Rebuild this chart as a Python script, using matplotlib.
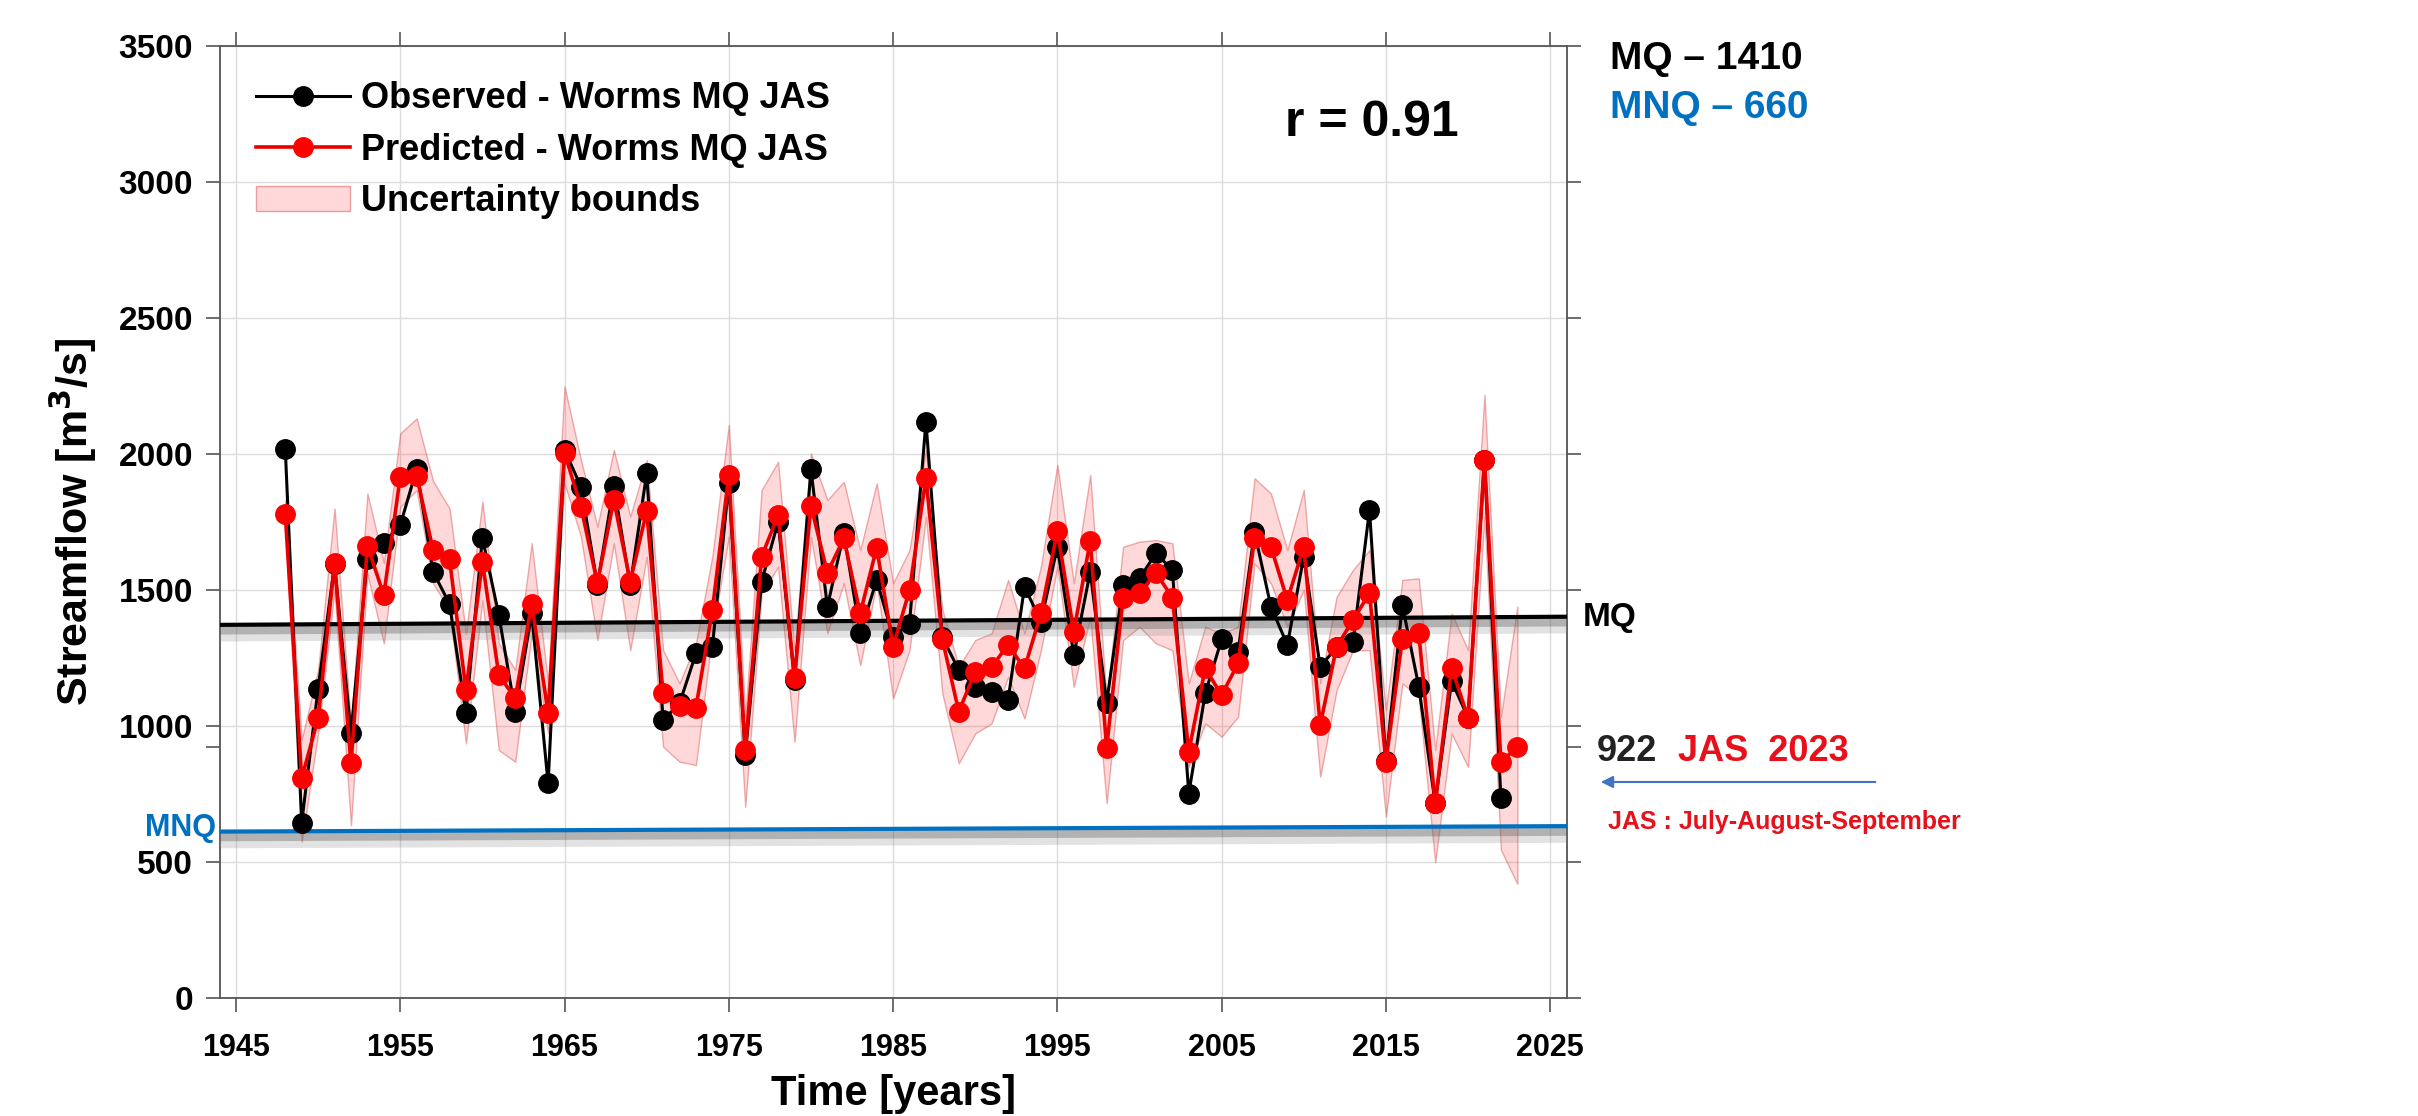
import matplotlib
matplotlib.use("Agg")
import matplotlib.pyplot as plt
import matplotlib.patheffects as pe
from matplotlib.patches import Patch

plt.rcParams['font.family'] = ['Liberation Sans', 'DejaVu Sans']
plt.rcParams['font.weight'] = 'bold'
plt.rcParams['axes.labelweight'] = 'bold'

years_pred = list(range(1948, 2024))
years_obs = list(range(1948, 2023))

observed = [2020, 645, 1138, 1595, 973, 1616, 1674, 1739, 1945, 1567,
            1449, 1047, 1692, 1408, 1053, 1414, 789, 2015, 1880, 1520,
            1883, 1518, 1929, 1022, 1083, 1267, 1292, 1892, 893, 1531,
            1751, 1169, 1944, 1439, 1708, 1341, 1537, 1328, 1377, 2119,
            1326, 1206, 1145, 1126, 1096, 1512, 1384, 1659, 1261, 1567,
            1086, 1518, 1543, 1635, 1574, 752, 1120, 1319, 1273, 1714,
            1439, 1298, 1623, 1218, 1290, 1310, 1794, 870, 1445, 1145,
            716, 1165, 1031, 1978, 734]

predicted = [1780, 808, 1028, 1598, 863, 1662, 1482, 1917, 1919, 1647,
             1613, 1132, 1604, 1188, 1102, 1449, 1049, 2005, 1806, 1525,
             1831, 1531, 1790, 1120, 1075, 1068, 1427, 1923, 912, 1623,
             1776, 1175, 1809, 1564, 1690, 1414, 1656, 1292, 1500, 1911,
             1319, 1053, 1200, 1218, 1298, 1212, 1414, 1717, 1347, 1680,
             921, 1469, 1488, 1564, 1472, 906, 1212, 1114, 1230, 1690,
             1659, 1463, 1659, 1004, 1292, 1390, 1488, 869, 1319, 1341,
             716, 1214, 1031, 1978, 869, 922]

upper = [1830, 950, 1206, 1800, 1000, 1855, 1600, 2076, 2131, 1900,
         1800, 1340, 1825, 1304, 1206, 1672, 1157, 2248, 1978, 1733,
         2015, 1770, 1978, 1279, 1157, 1304, 1623, 2107, 1034, 1868,
         1972, 1279, 2002, 1831, 1898, 1647, 1892, 1525, 1647, 2015,
         1427, 1218, 1316, 1341, 1537, 1341, 1586, 1960, 1525, 1923,
         1096, 1659, 1678, 1684, 1672, 1157, 1365, 1341, 1365, 1911,
         1855, 1647, 1868, 1157, 1475, 1574, 1647, 1059, 1537, 1543,
         912, 1414, 1279, 2217, 1034, 1439]

lower = [1740, 575, 973, 1500, 636, 1560, 1304, 1806, 1868, 1525,
         1426, 936, 1463, 912, 869, 1341, 973, 1892, 1696, 1316,
         1672, 1279, 1623, 924, 869, 857, 1341, 1696, 703, 1488,
         1586, 942, 1696, 1341, 1525, 1224, 1525, 1102, 1279, 1770,
         1120, 863, 973, 1010, 1181, 1028, 1279, 1586, 1145, 1402,
         716, 1316, 1365, 1304, 1279, 850, 1010, 961, 1034, 1598,
         1525, 1365, 1500, 814, 1132, 1279, 1279, 667, 1157, 1108,
         500, 973, 850, 1770, 545, 420]

trend_years = [1944, 2026]
mq_trend = [1372, 1402]
mnq_trend = [612, 632]

x_ticks = [1945, 1955, 1965, 1975, 1985, 1995, 2005, 2015, 2025]
y_ticks = [0, 500, 1000, 1500, 2000, 2500, 3000, 3500]
jas_2023 = 922

fig = plt.figure(figsize=(24.18, 11.16), dpi=100)
ax = fig.add_axes([0.0908, 0.1057, 0.5571, 0.8530])

band = ax.fill_between(years_pred, lower, upper, facecolor=(1, 0, 0, 0.15),
                       edgecolor=(0.85, 0.3, 0.3, 0.45), linewidth=1, zorder=2)

# trend lines with a soft grey drop shadow
shadow = [pe.SimpleLineShadow(offset=(0, -6), shadow_color='0.55', alpha=0.25, linewidth=12),
          pe.SimpleLineShadow(offset=(0, -4), shadow_color='0.35', alpha=0.35, linewidth=6),
          pe.Normal()]
ax.plot(trend_years, mq_trend, color='black', lw=3, zorder=3, path_effects=shadow)
ax.plot(trend_years, mnq_trend, color='#0070C0', lw=3, zorder=3, path_effects=shadow)

obs_line, = ax.plot(years_obs, observed, '-o', color='black', lw=2.2,
                    markersize=14, zorder=4)
pred_line, = ax.plot(years_pred, predicted, '-o', color='#E80000', mfc='#FF0000',
                     mec='#FF0000', lw=2.6, markersize=14, zorder=5)

ax.set_xlim(1944, 2026)
ax.set_ylim(0, 3500)
ax.set_xticks(x_ticks)
ax.set_yticks(y_ticks)
ax.set_yticks([jas_2023], labels=[''], minor=True)
ax.grid(True, which='major', color='#dcdcdc', lw=1, zorder=0)
ax.set_axisbelow(True)
ax.tick_params(axis='both', which='both', direction='out', length=10, width=1.2,
               color='#555555', top=True)
ax.tick_params(axis='x', labelsize=22, pad=15)
ax.tick_params(axis='y', labelsize=24, pad=9)
for s in ax.spines.values():
    s.set_color('#555555')
    s.set_linewidth(1.3)

ax2 = ax.twinx()
ax2.set_ylim(0, 3500)
ax2.set_yticks(y_ticks, labels=[''] * len(y_ticks))
ax2.set_yticks([jas_2023], labels=[str(jas_2023)], minor=True)
ax2.tick_params(axis='y', which='both', direction='out', length=10, width=1.2,
                color='#555555')
ax2.tick_params(axis='y', which='minor', labelsize=26, pad=12, labelcolor='#222222')
for s in ax2.spines.values():
    s.set_visible(False)

ax.set_xlabel('Time [years]', fontsize=30, labelpad=8)
ax.set_ylabel('Streamflow [m$^{\\mathbf{3}}$/s]', fontsize=31, labelpad=14)

ax.legend([obs_line, pred_line, Patch(facecolor=(1, 0, 0, 0.15), edgecolor=(0.85, 0.3, 0.3, 0.5))],
          ['Observed - Worms MQ JAS', 'Predicted - Worms MQ JAS', 'Uncertainty bounds'],
          loc='upper left', bbox_to_anchor=(0.027, 0.963), frameon=False,
          fontsize=26, handlelength=2.6, handletextpad=0.3, labelspacing=0.45,
          borderaxespad=0, borderpad=0)

fig.text(0.5674, 0.8898, 'r = 0.91', fontsize=36, ha='center', va='center')
fig.text(0.6658, 0.9471, 'MQ \u2013 1410', fontsize=28, ha='left', va='center', color='black')
fig.text(0.6658, 0.9032, 'MNQ \u2013 660', fontsize=28, ha='left', va='center', color='#0070C0')
fig.text(0.6547, 0.4471, 'MQ', fontsize=24, ha='left', va='center', color='black')
fig.text(0.694, 0.3262, 'JAS  2023', fontsize=26, ha='left', va='center', color='#E8101A')
fig.text(0.665, 0.2634, 'JAS : July-August-September', fontsize=18, ha='left', va='center',
         color='#E8101A')
fig.text(0.0893, 0.2581, 'MNQ', fontsize=22, ha='right', va='center', color='#0070C0')
fig.add_artist(matplotlib.patches.FancyArrowPatch((0.7767, 0.2993), (0.6609, 0.2993),
                                                  transform=fig.transFigure,
                                                  arrowstyle='-|>', mutation_scale=18,
                                                  color='#4472C4', lw=1.5))

fig.savefig('out.png', dpi=100)
